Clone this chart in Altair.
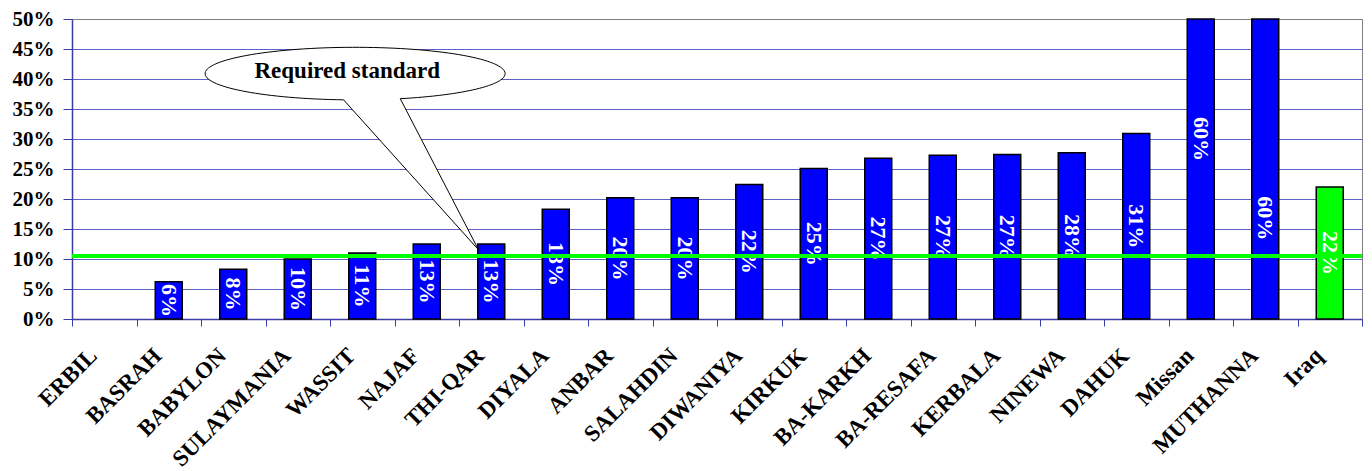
import altair as alt
import pandas as pd

# ---- data ----
regions = ["ERBIL", "BASRAH", "BABYLON", "SULAYMANIA", "WASSIT", "NAJAF", "THI-QAR",
           "DIYALA", "ANBAR", "SALAHDIN", "DIWANIYA", "KIRKUK", "BA-KARKH", "BA-RESAFA",
           "KERBALA", "NINEWA", "DAHUK", "Missan", "MUTHANNA", "Iraq"]
rates = [0, 6.2, 8.3, 10.0, 11.0, 12.5, 12.5, 18.3, 20.2, 20.2, 22.4, 25.1, 26.8,
         27.3, 27.4, 27.7, 30.9, 60, 60, 22.0]
labels = ["", "6%", "8%", "10%", "11%", "13%", "13%", "18%", "20%", "20%", "22%",
          "25%", "27%", "27%", "27%", "28%", "31%", "60%", "60%", "22%"]
y_ticks = [0, 5, 10, 15, 20, 25, 30, 35, 40, 45, 50]
STANDARD = 10.5
LABEL_OVERRIDE = {"MUTHANNA": 16.8}
callout_text = ["Required standard"]
callout_anchor = ["WASSIT"]
callout_level = [40.9]

df = pd.DataFrame({"region": regions, "rate": rates, "label": labels})
df["label_at"] = [LABEL_OVERRIDE.get(r, v / 2) for r, v in zip(regions, rates)]

SERIF = "Liberation Serif"
AXIS_BLUE = "#3c3ca8"
GRID_BLUE = "#6060c4"

xscale = alt.Scale(paddingInner=0, paddingOuter=0)
xaxis = alt.Axis(
    labelAngle=-45, labelFont=SERIF, labelFontSize=23, labelFontWeight="bold",
    labelColor="black", labelPadding=18, labelOffset=-19, tickBand="extent",
    tickSize=7, tickColor=AXIS_BLUE, domainColor=AXIS_BLUE, domainWidth=1.5,
    grid=False, labelOverlap=False,
)
yscale = alt.Scale(domain=[0, 50], clamp=True, nice=False)
yaxis = alt.Axis(
    values=y_ticks, labelExpr="datum.value + '%'", labelFont=SERIF,
    labelFontSize=21, labelFontWeight="bold", labelColor="black",
    labelPadding=9, tickSize=9, tickColor=AXIS_BLUE, domainColor=AXIS_BLUE,
    domainWidth=1.5,
    gridColor={"condition": {"test": "datum.value === 50", "value": "#808080"},
               "value": GRID_BLUE},
    gridWidth=1,
)

X = alt.X("region:N", sort=regions, scale=xscale, axis=xaxis, title=None)

base = alt.Chart(df)

bars = base.mark_bar(size=27, stroke="black", strokeWidth=1.5).encode(
    x=X,
    y=alt.Y("rate:Q", scale=yscale, axis=yaxis, title=None),
    color=alt.condition(alt.datum.region == "Iraq", alt.value("#00ff00"),
                        alt.value("#0000ff")),
).transform_filter(alt.datum.rate > 0)

texts = base.mark_text(angle=90, align="center", baseline="middle", font=SERIF,
                       fontSize=22, fontWeight="bold", color="white").encode(
    x=X,
    y=alt.Y("label_at:Q", scale=yscale, axis=yaxis, title=None),
    text="label:N",
)

std = alt.Chart(pd.DataFrame({"std": [STANDARD]})).mark_rule(
    color="#00ff00", strokeWidth=4).encode(
    y=alt.Y("std:Q", scale=yscale, axis=yaxis, title=None)
)

callout_df = pd.DataFrame({"region": callout_anchor, "lvl": callout_level,
                           "txt": callout_text})
CALLOUT_PATH = "M -0.078 0.1748 A 1 0.1753 0 1 1 0.3 0.1672 L 0.822 1.175 Z"
bubble = alt.Chart(callout_df).mark_point(
    shape=CALLOUT_PATH, size=90000, filled=True, fill="white", fillOpacity=1,
    stroke="black", strokeWidth=1, strokeOpacity=1, opacity=1, xOffset=-7,
).encode(
    x=alt.X("region:N", sort=regions, scale=xscale, axis=xaxis, title=None),
    y=alt.Y("lvl:Q", scale=yscale, axis=yaxis, title=None),
)
bubble_text = alt.Chart(callout_df).mark_text(
    font=SERIF, fontSize=23, fontWeight="bold", color="black",
    align="center", baseline="middle", xOffset=-15, yOffset=-3,
).encode(
    x=alt.X("region:N", sort=regions, scale=xscale, axis=xaxis, title=None),
    y=alt.Y("lvl:Q", scale=yscale, axis=yaxis, title=None),
    text="txt:N",
)

chart = alt.layer(bars, texts, std, bubble, bubble_text).properties(
    width=1290, height=300,
    padding={"left": 64, "top": 11, "right": 2, "bottom": 152},
    autosize=alt.AutoSizeParams(type="none"),
).configure_view(stroke="#808080", strokeWidth=1)

chart.save("out.html", embed_options={"renderer": "svg", "actions": False})
